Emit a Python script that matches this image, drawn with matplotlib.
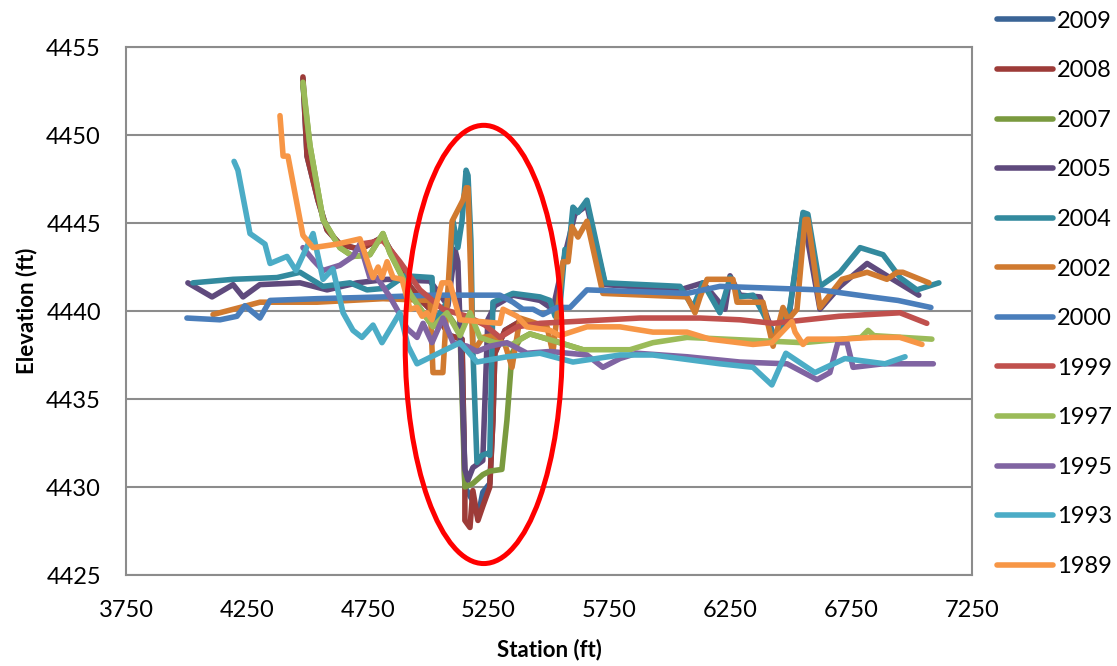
import matplotlib
matplotlib.use("Agg")
import matplotlib.pyplot as plt
from matplotlib.patches import Ellipse

plt.rcParams['font.family'] = ['Lato', 'DejaVu Sans']

# station (ft) / elevation (ft)
st_2009 = [4482, 4499, 4544, 4582, 4635, 4718, 4813, 4842, 4883, 4925, 4979, 5037, 5090, 5140,
           5152, 5181, 5206, 5226, 5255, 5268, 5276, 5318, 5380]
el_2009 = [4453.2, 4448.8, 4446.3, 4444.6, 4443.8, 4443.5, 4444.2, 4443.5, 4442.7, 4441.4, 4440.5,
           4439.7, 4438.6, 4438.4, 4430.0, 4429.3, 4428.3, 4429.7, 4430.2, 4433.8, 4437.6, 4438.9, 4439.4]

st_2008 = [4482, 4499, 4544, 4582, 4635, 4718, 4813, 4842, 4883, 4925, 4979, 5037, 5090, 5140,
           5152, 5152, 5173, 5185, 5206, 5226, 5255, 5268, 5276, 5318, 5380]
el_2008 = [4453.3, 4448.8, 4446.3, 4444.6, 4443.8, 4443.5, 4444.2, 4443.5, 4442.7, 4441.4, 4440.5,
           4439.7, 4438.6, 4438.4, 4430.0, 4428.1, 4427.7, 4429.8, 4428.1, 4428.9, 4430.0, 4433.8,
           4437.6, 4438.9, 4439.4]

st_2007 = [4482, 4511, 4565, 4635, 4689, 4759, 4813, 4842, 4883, 4925, 4979, 5020, 5078, 5132,
           5152, 5185, 5226, 5255, 5305, 5326, 5347, 5380, 5421, 5545, 5640]
el_2007 = [4452.8, 4449.4, 4445.2, 4443.6, 4443.1, 4443.2, 4444.4, 4443.3, 4442.2, 4441.0, 4439.9,
           4439.1, 4439.9, 4438.8, 4430.0, 4430.2, 4430.7, 4430.9, 4431.0, 4433.8, 4437.6, 4438.4,
           4438.7, 4438.2, 4437.8]

st_2005 = [4006, 4106, 4193, 4234, 4304, 4470, 4582, 4706, 4830, 5008, 5082, 5111, 5123, 5152,
           5165, 5185, 5226, 5247, 5276, 5351, 5463, 5516, 5566, 5607, 5657, 5732, 6042, 6137,
           6228, 6249, 6290, 6373, 6435, 6497, 6551, 6621, 6704, 6816, 6898, 7030]
el_2005 = [4441.6, 4440.8, 4441.5, 4440.8, 4441.5, 4441.6, 4441.2, 4441.6, 4441.8, 4441.7, 4440.3,
           4443.5, 4442.8, 4431.0, 4430.4, 4431.1, 4431.5, 4439.5, 4440.3, 4440.9, 4440.6, 4440.1,
           4443.2, 4445.5, 4446.0, 4441.5, 4441.2, 4441.6, 4440.1, 4442.0, 4440.9, 4440.8, 4438.4,
           4440.1, 4445.5, 4440.1, 4441.4, 4442.7, 4442.0, 4440.9]

st_2004 = [4027, 4193, 4375, 4470, 4565, 4677, 4747, 4830, 4904, 5016, 5024, 5082, 5103, 5123,
           5140, 5157, 5165, 5177, 5185, 5202, 5223, 5243, 5255, 5268, 5351, 5463, 5504, 5525,
           5545, 5566, 5579, 5599, 5620, 5657, 5732, 6042, 6096, 6137, 6207, 6249, 6290, 6344,
           6385, 6435, 6497, 6551, 6571, 6621, 6704, 6787, 6882, 6952, 7022, 7113]
el_2004 = [4441.6, 4441.8, 4441.9, 4442.2, 4441.4, 4441.6, 4441.2, 4441.3, 4442.0, 4441.9, 4439.3,
           4440.6, 4445.1, 4443.6, 4445.1, 4448.0, 4447.7, 4444.0, 4437.8, 4431.4, 4431.8, 4431.9,
           4431.8, 4440.5, 4441.0, 4440.8, 4440.6, 4439.7, 4440.2, 4443.5, 4443.1, 4445.9, 4445.6,
           4446.3, 4441.6, 4441.4, 4440.2, 4441.6, 4439.9, 4441.9, 4440.8, 4440.9, 4439.9, 4438.5,
           4440.2, 4445.6, 4445.5, 4441.4, 4442.2, 4443.6, 4443.2, 4441.9, 4441.2, 4441.6]

st_2002 = [4110, 4222, 4304, 4540, 4813, 5008, 5020, 5061, 5099, 5144, 5157, 5165, 5177, 5185,
           5202, 5226, 5268, 5318, 5347, 5380, 5492, 5516, 5558, 5579, 5595, 5620, 5657, 5723,
           6071, 6104, 6125, 6154, 6261, 6278, 6385, 6427, 6468, 6489, 6526, 6559, 6571, 6621,
           6712, 6816, 6898, 6940, 6964, 7072]
el_2002 = [4439.8, 4440.2, 4440.5, 4440.5, 4440.7, 4440.6, 4436.5, 4436.5, 4445.1, 4446.3, 4447.0,
           4447.0, 4441.6, 4437.8, 4438.0, 4438.5, 4438.6, 4438.1, 4436.8, 4439.6, 4439.1, 4437.6,
           4442.8, 4442.8, 4444.8, 4444.2, 4445.1, 4441.0, 4440.8, 4439.9, 4440.8, 4441.8, 4441.8,
           4440.5, 4440.5, 4438.0, 4440.2, 4439.5, 4440.1, 4445.2, 4445.2, 4440.2, 4441.8, 4442.2,
           4441.8, 4442.2, 4442.2, 4441.6]

st_2000 = [4002, 4139, 4209, 4242, 4304, 4346, 4540, 4813, 5020, 5297, 5351, 5392, 5434, 5475,
           5533, 5587, 5657, 6071, 6207, 6621, 6832, 6944, 7080]
el_2000 = [4439.6, 4439.5, 4439.7, 4440.3, 4439.6, 4440.6, 4440.7, 4440.8, 4440.9, 4440.9, 4440.5,
           4440.1, 4440.1, 4439.8, 4440.2, 4440.2, 4441.2, 4441.0, 4441.4, 4441.2, 4440.8, 4440.6,
           4440.2]

st_1999 = [4718, 4813, 4883, 4966, 5061, 5161, 5235, 5297, 5368, 5463, 5599, 5876, 6125, 6290,
           6427, 6700, 6952, 7063]
el_1999 = [4443.8, 4444.0, 4442.8, 4441.2, 4440.1, 4439.7, 4439.2, 4438.5, 4439.1, 4439.3, 4439.4,
           4439.6, 4439.6, 4439.5, 4439.3, 4439.7, 4439.9, 4439.3]

st_1997 = [4482, 4511, 4565, 4635, 4689, 4759, 4813, 4842, 4883, 4925, 4979, 5020, 5078, 5132,
           5173, 5214, 5276, 5347, 5421, 5545, 5640, 5835, 5930, 6071, 6551, 6791, 6820, 6844, 7084]
el_1997 = [4453.0, 4449.4, 4445.2, 4443.6, 4443.1, 4443.2, 4444.4, 4443.3, 4442.2, 4441.0, 4439.9,
           4439.1, 4439.9, 4438.6, 4439.9, 4438.5, 4438.2, 4438.1, 4438.7, 4438.2, 4437.8, 4437.8,
           4438.2, 4438.5, 4438.2, 4438.5, 4438.9, 4438.6, 4438.4]

st_1995 = [4482, 4524, 4565, 4635, 4689, 4718, 4759, 4788, 4842, 4871, 4913, 4954, 4979, 5016,
           5061, 5103, 5161, 5202, 5256, 5326, 5409, 5504, 5657, 5723, 5794, 5864, 6071, 6290,
           6485, 6609, 6662, 6695, 6733, 6758, 6882, 7090]
el_1995 = [4443.6, 4442.9, 4442.3, 4442.6, 4443.1, 4443.8, 4441.9, 4441.9, 4440.8, 4440.1, 4439.0,
           4438.5, 4439.3, 4438.2, 4439.6, 4438.2, 4438.0, 4437.7, 4438.0, 4438.2, 4437.6, 4437.7,
           4437.5, 4436.8, 4437.3, 4437.6, 4437.4, 4437.1, 4437.0, 4436.1, 4436.5, 4438.2, 4438.2,
           4436.8, 4437.0, 4437.0]

st_1993 = [4197, 4213, 4263, 4325, 4346, 4416, 4453, 4524, 4565, 4606, 4648, 4689, 4726, 4772,
           4809, 4883, 4917, 4954, 5132, 5202, 5326, 5463, 5599, 5794, 5930, 6207, 6344, 6422,
           6480, 6600, 6724, 6890, 6973]
el_1993 = [4448.5, 4448.0, 4444.4, 4443.8, 4442.7, 4443.1, 4442.3, 4444.4, 4441.8, 4442.4, 4439.9,
           4438.9, 4438.5, 4439.2, 4438.2, 4439.9, 4438.0, 4437.0, 4438.2, 4437.1, 4437.4, 4437.6,
           4437.1, 4437.5, 4437.5, 4437.0, 4436.8, 4435.8, 4437.6, 4436.5, 4437.3, 4437.0, 4437.4]

st_1989 = [4387, 4400, 4420, 4482, 4524, 4623, 4718, 4759, 4772, 4793, 4809, 4830, 4855, 4892,
           4925, 4954, 4975, 4995, 5016, 5057, 5090, 5132, 5297, 5310, 5368, 5409, 5504, 5545,
           5657, 5794, 5930, 6071, 6166, 6344, 6422, 6505, 6518, 6551, 6571, 6704, 6840, 6952, 7043]
el_1989 = [4451.1, 4448.8, 4448.8, 4444.3, 4443.6, 4443.8, 4444.1, 4442.4, 4441.9, 4442.5, 4441.9,
           4442.8, 4441.9, 4441.8, 4440.1, 4440.2, 4439.7, 4439.9, 4439.5, 4441.6, 4441.6, 4439.5,
           4439.3, 4440.1, 4439.7, 4439.1, 4438.9, 4438.6, 4439.1, 4439.1, 4438.8, 4438.8, 4438.4,
           4438.1, 4438.2, 4439.4, 4438.8, 4438.1, 4438.4, 4438.4, 4438.5, 4438.5, 4438.1]

years = ['2009', '2008', '2007', '2005', '2004', '2002', '2000', '1999', '1997', '1995', '1993', '1989']
stations = [st_2009, st_2008, st_2007, st_2005, st_2004, st_2002,
            st_2000, st_1999, st_1997, st_1995, st_1993, st_1989]
elevations = [el_2009, el_2008, el_2007, el_2005, el_2004, el_2002,
              el_2000, el_1999, el_1997, el_1995, el_1993, el_1989]
colors = ['#3A6496', '#9D3B38', '#7A9A3F', '#5F4A7D', '#338A9E', '#D07A30',
          '#4A7EBB', '#C0504D', '#9BBB59', '#8064A2', '#4BACC6', '#F79646']

xticks = [3750, 4250, 4750, 5250, 5750, 6250, 6750, 7250]
yticks = [4425, 4430, 4435, 4440, 4445, 4450, 4455]

fig = plt.figure(figsize=(11.17, 6.66), dpi=100)
ax = fig.add_axes([126 / 1117, 91 / 666, 846 / 1117, 528 / 666])

for i in range(len(years)):
    ax.plot(stations[i], elevations[i], color=colors[i], lw=4, label=years[i],
            solid_joinstyle='round', solid_capstyle='round')

# the red ring around the scour hole
ring = Ellipse((5230, 4438.1), 650, 24.9, fill=False, edgecolor='#FF0000', lw=3.6, zorder=10, clip_on=False)
ax.add_patch(ring)

ax.set_xlim(3750, 7250)
ax.set_ylim(4425, 4455)
ax.set_xticks(xticks)
ax.set_yticks(yticks)
ax.tick_params(length=0, pad=18, labelsize=17)
ax.grid(axis='y', color='#8C8C8C', lw=1.5)
ax.set_axisbelow(True)
for s in ax.spines.values():
    s.set_color('#8C8C8C')
    s.set_linewidth(1.5)

ax.set_xlabel('Station (ft)', fontsize=16, fontweight='bold', labelpad=13)
ax.set_ylabel('Elevation (ft)', fontsize=16, fontweight='bold', labelpad=6)

ax.legend(loc='upper left', bbox_to_anchor=(992 / 1117, 1 - 6 / 666), bbox_transform=fig.transFigure,
          frameon=False, fontsize=17, handlelength=2.4, handletextpad=0.15,
          labelspacing=1.21, borderpad=0.2, borderaxespad=0)

fig.savefig('out.png', dpi=100)
